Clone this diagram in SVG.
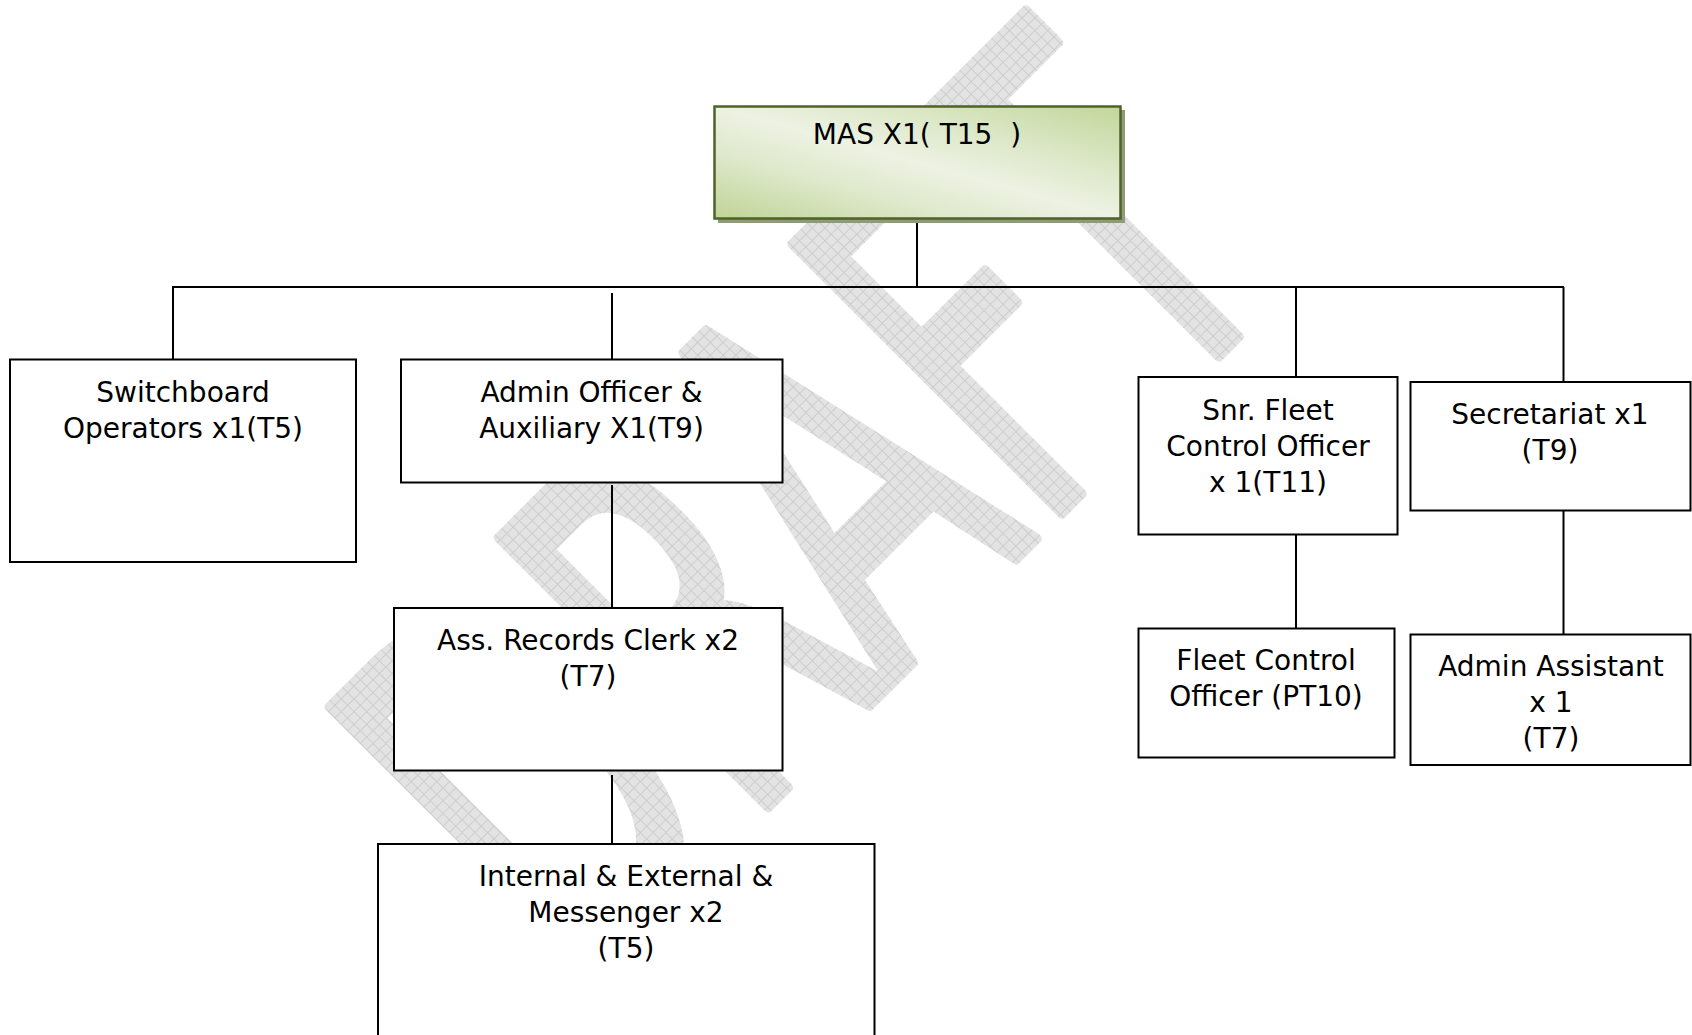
<svg xmlns="http://www.w3.org/2000/svg" width="1692" height="1035" viewBox="0 0 1692 1035">
  <defs>
    <style>
      .box { fill: #ffffff; stroke: #000000; stroke-width: 2; }
      .lbl { font-family: "DejaVu Sans", "Liberation Sans", sans-serif; font-size: 28px; fill: #000000; text-anchor: middle; }
      .conn line { stroke: #000000; stroke-width: 2; }
      .mark { font-family: "DejaVu Sans", "Liberation Sans", sans-serif; font-size: 520px; fill: url(#hatch); stroke: url(#hatch); stroke-width: 12; stroke-linejoin: round; }
    </style>
    <!-- light grey grid used for the watermark lettering -->
    <pattern id="hatch" width="9" height="9" patternUnits="userSpaceOnUse">
      <rect width="9" height="9" fill="#e3e3e3"/>
      <path d="M0 0.5H9M0.5 0V9" stroke="#cdcdcd" stroke-width="1"/>
    </pattern>
    <!-- soft green fill of the top post -->
    <linearGradient id="topFill" x1="1" y1="0" x2="0" y2="1">
      <stop offset="0" stop-color="#c2d69a"/>
      <stop offset="0.3" stop-color="#dde8c9"/>
      <stop offset="0.5" stop-color="#edf2e3"/>
      <stop offset="0.7" stop-color="#dfe9cc"/>
      <stop offset="1" stop-color="#c0d496"/>
    </linearGradient>
  </defs>

  <rect width="1692" height="1035" fill="#ffffff"/>

  <!-- watermark -->
  <text class="mark" transform="translate(576,998) rotate(-45)" textLength="1017" lengthAdjust="spacingAndGlyphs">DRAFT</text>

  <!-- connectors -->
  <g id="connectors" class="conn">
    <line x1="917" y1="219" x2="917" y2="287"/>
    <line x1="172" y1="287" x2="1564" y2="287"/>
    <line x1="173" y1="287" x2="173" y2="359"/>
    <line x1="612" y1="293" x2="612" y2="359"/>
    <line x1="612" y1="485" x2="612" y2="608"/>
    <line x1="612" y1="775" x2="612" y2="844"/>
    <line x1="1296" y1="287" x2="1296" y2="377"/>
    <line x1="1296" y1="535" x2="1296" y2="628"/>
    <line x1="1563.5" y1="287" x2="1563.5" y2="382"/>
    <line x1="1563.5" y1="511" x2="1563.5" y2="635"/>
  </g>

  <!-- top post -->
  <g id="mas">
    <rect x="718" y="110" width="407" height="113" fill="#8f9a7a"/>
    <rect x="714.5" y="106.5" width="406" height="112" fill="url(#topFill)" stroke="#4f6228" stroke-width="2.5"/>
    <text class="lbl" x="917" y="144" xml:space="preserve">MAS X1( T15  )</text>
  </g>

  <g id="switchboard">
    <rect class="box" x="10" y="359.5" width="346" height="202.5"/>
    <text class="lbl" x="183" y="402">Switchboard</text>
    <text class="lbl" x="183" y="437.5">Operators x1(T5)</text>
  </g>

  <g id="admin-officer">
    <rect class="box" x="401" y="359.5" width="381.5" height="123"/>
    <text class="lbl" x="591.5" y="402">Admin Officer &amp;</text>
    <text class="lbl" x="591.5" y="437.5">Auxiliary X1(T9)</text>
  </g>

  <g id="records-clerk">
    <rect class="box" x="394" y="608" width="388.5" height="162.5"/>
    <text class="lbl" x="588" y="650">Ass. Records Clerk x2</text>
    <text class="lbl" x="588" y="686">(T7)</text>
  </g>

  <g id="messenger">
    <rect class="box" x="378" y="844" width="496.5" height="200"/>
    <text class="lbl" x="626" y="886">Internal &amp; External &amp;</text>
    <text class="lbl" x="626" y="922">Messenger x2</text>
    <text class="lbl" x="626" y="958">(T5)</text>
  </g>

  <g id="snr-fleet">
    <rect class="box" x="1138.5" y="377" width="259" height="157.5"/>
    <text class="lbl" x="1268" y="420">Snr. Fleet</text>
    <text class="lbl" x="1268" y="456">Control Officer</text>
    <text class="lbl" x="1268" y="492">x 1(T11)</text>
  </g>

  <g id="fleet-control">
    <rect class="box" x="1138.5" y="628.5" width="256" height="129"/>
    <text class="lbl" x="1266" y="670">Fleet Control</text>
    <text class="lbl" x="1266" y="706">Officer (PT10)</text>
  </g>

  <g id="secretariat">
    <rect class="box" x="1410.5" y="382" width="280" height="128.5"/>
    <text class="lbl" x="1550" y="424">Secretariat x1</text>
    <text class="lbl" x="1550" y="460">(T9)</text>
  </g>

  <g id="admin-assistant">
    <rect class="box" x="1410.5" y="634.5" width="280" height="130.5"/>
    <text class="lbl" x="1551" y="676">Admin Assistant</text>
    <text class="lbl" x="1551" y="712">x 1</text>
    <text class="lbl" x="1551" y="748">(T7)</text>
  </g>
</svg>
